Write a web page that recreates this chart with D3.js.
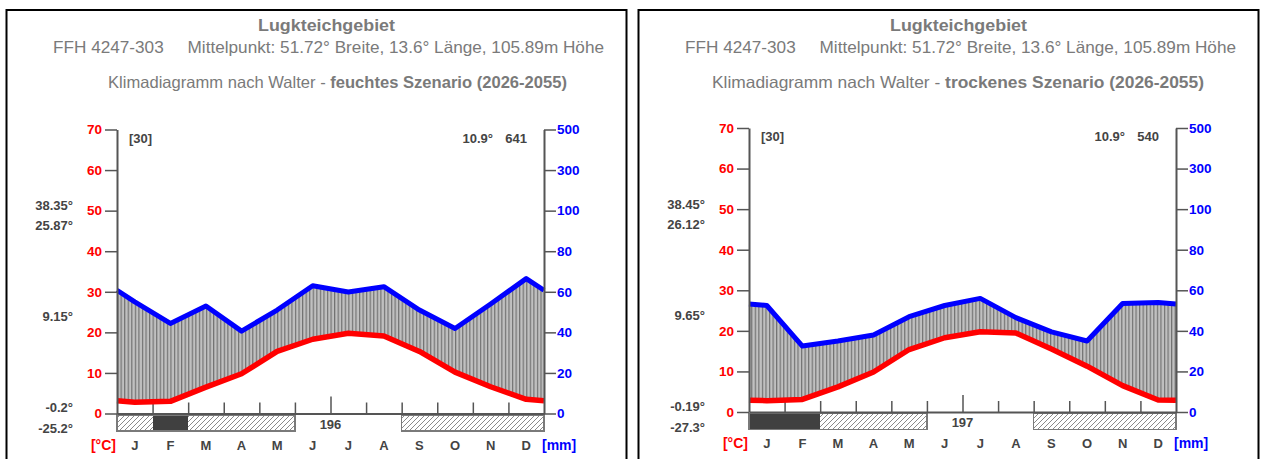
<!DOCTYPE html>
<html>
<head>
<meta charset="utf-8">
<script src="https://cdn.jsdelivr.net/npm/d3@7"></script>
<style>
  body { margin: 0; background: #fff; }
  svg { display: block; font-family: "Liberation Sans", Arial, sans-serif; }
</style>
</head>
<body>
<svg id="chart" width="1262" height="459"></svg>
<script>
// data
var months = ["J", "F", "M", "A", "M", "J", "J", "A", "S", "O", "N", "D"];
var tempTicks = [0, 10, 20, 30, 40, 50, 60, 70];
var precipTicks = [0, 20, 40, 60, 80, 100, 300, 500];

var tempWet = [2.8, 3.0, 6.5, 9.8, 15.3, 18.3, 19.8, 19.1, 15.3, 10.2, 6.6, 3.5];
var precipWet = [55, 44.4, 53, 40.6, 51, 63, 59.9, 62.5, 51, 41.9, 54, 66.5];
var tempDry = [2.8, 3.1, 6.2, 9.85, 15.4, 18.3, 19.8, 19.5, 15.5, 11.3, 6.5, 2.95];
var precipDry = [52.5, 32.5, 35, 38, 47, 52.5, 56, 46.5, 39.5, 35, 53.5, 54];

// frost bar: 0 = none, 1 = hatched (possible frost), 2 = dark (frost)
var frostWet = [1, 2, 1, 1, 1, 0, 0, 0, 1, 1, 1, 1];
var frostDry = [2, 2, 1, 1, 1, 0, 0, 0, 1, 1, 1, 1];

var statsWet = ["38.35°", "25.87°", "9.15°", "-0.2°", "-25.2°"];
var statsDry = ["38.45°", "26.12°", "9.65°", "-0.19°", "-27.3°"];

var panels = [
  {ox: 0, oy: 0, scenario: "feuchtes Szenario (2026-2055)", temp: tempWet, precip: precipWet,
   frost: frostWet, frostFree: 196, meanTemp: "10.9°", annual: 641, stats: statsWet,
   subX: 108, subW: 459},
  {ox: 632, oy: -1.5, scenario: "trockenes Szenario (2026-2055)", temp: tempDry, precip: precipDry,
   frost: frostDry, frostFree: 197, meanTemp: "10.9°", annual: 540, stats: statsDry,
   subX: 80, subW: 492}
];

var svg = d3.select("#chart");
var defs = svg.append("defs");

// diagonal hatching for the frost bar
var hatch = defs.append("pattern")
  .attr("id", "hatch")
  .attr("patternUnits", "userSpaceOnUse")
  .attr("width", 5).attr("height", 5);
hatch.append("rect").attr("width", 5).attr("height", 5).attr("fill", "#fff");
hatch.append("path")
  .attr("d", "M-1,1 l2,-2 M0,5 l5,-5 M4,6 l2,-2")
  .attr("stroke", "#8a8a8a").attr("stroke-width", 1);

function drawPanel(p, idx) {
  var g = svg.append("g").attr("transform", "translate(" + p.ox + ",0)");

  // frame
  g.append("rect")
    .attr("x", 6.5).attr("y", 10).attr("width", 620).attr("height", 470)
    .attr("fill", "none").attr("stroke", "#000").attr("stroke-width", 2);

  // titles
  var title = g.append("g").attr("fill", "#7a7a7a");
  title.append("text").attr("x", 258).attr("y", 31)
    .attr("font-size", 17).attr("font-weight", "bold")
    .attr("textLength", 137).attr("lengthAdjust", "spacingAndGlyphs")
    .text("Lugkteichgebiet");
  title.append("text").attr("x", 53).attr("y", 53).attr("font-size", 16.5)
    .attr("textLength", 551).attr("lengthAdjust", "spacingAndGlyphs")
    .style("white-space", "pre")
    .text("FFH 4247-303     Mittelpunkt: 51.72° Breite, 13.6° Länge, 105.89m Höhe");
  var l3 = title.append("text").attr("x", p.subX).attr("y", 88).attr("font-size", 16.5)
    .attr("textLength", p.subW).attr("lengthAdjust", "spacingAndGlyphs");
  l3.append("tspan").text("Klimadiagramm nach Walter - ");
  l3.append("tspan").attr("font-weight", "bold").text(p.scenario);

  // plot geometry
  var x0 = 117, x1 = 544, yTop = 129.5 + p.oy, y0 = 413.5 + p.oy;
  var xB = d3.scaleLinear().domain([0, 12]).range([x0, x1]);
  var yT = d3.scaleLinear().domain([0, 70]).range([y0, yTop]);
  var yP = d3.scaleLinear().domain([0, 100, 500]).range([yT(0), yT(50), yT(70)]);
  var mw = (x1 - x0) / 12;

  // vertical stripes for the humid period
  var pid = "humid" + idx;
  var pat = defs.append("pattern")
    .attr("id", pid)
    .attr("patternUnits", "userSpaceOnUse")
    .attr("x", p.ox + x0).attr("y", 0)
    .attr("width", mw / 10).attr("height", 10);
  pat.append("rect").attr("width", mw / 10).attr("height", 10).attr("fill", "#c0c0c0");
  pat.append("rect").attr("x", 0).attr("width", 1.2).attr("height", 10).attr("fill", "#727272");

  // points at month centres, closed at both edges with the Dec/Jan mean
  var n = months.length;
  var pts = [{x: x0, t: (p.temp[0] + p.temp[n - 1]) / 2, pr: (p.precip[0] + p.precip[n - 1]) / 2}];
  months.forEach(function(m, i) {
    pts.push({x: xB(i + 0.5), t: p.temp[i], pr: p.precip[i]});
  });
  pts.push({x: x1, t: pts[0].t, pr: pts[0].pr});

  var area = d3.area()
    .x(function(d) { return d.x; })
    .y0(function(d) { return yT(d.t); })
    .y1(function(d) { return yP(d.pr); });
  g.append("path").datum(pts).attr("d", area).attr("fill", "url(#" + pid + ")");

  // frost bar
  var bar = g.append("g").attr("shape-rendering", "crispEdges");
  bar.selectAll("rect.cell")
    .data(p.frost.map(function(f, i) { return {f: f, i: i}; }).filter(function(d) { return d.f > 0; }))
    .enter().append("rect")
    .attr("class", "cell")
    .attr("x", function(d) { return Math.round(xB(d.i)); })
    .attr("y", y0 + 1.5)
    .attr("width", function(d) { return Math.round(xB(d.i + 1)) - Math.round(xB(d.i)); })
    .attr("height", 16)
    .attr("fill", function(d) { return d.f === 2 ? "#404040" : "url(#hatch)"; });
  // outline each run of frost months
  var runs = [], start = -1;
  p.frost.forEach(function(f, i) {
    if (f > 0 && start < 0) start = i;
    if ((f === 0 || i === n - 1) && start >= 0) {
      runs.push([start, f === 0 ? i : i + 1]);
      start = -1;
    }
  });
  bar.selectAll("rect.run").data(runs).enter().append("rect")
    .attr("class", "run")
    .attr("x", function(d) { return xB(d[0]); })
    .attr("y", y0 + 1.5)
    .attr("width", function(d) { return xB(d[1]) - xB(d[0]); })
    .attr("height", 16)
    .attr("fill", "none").attr("stroke", "#7a7a7a").attr("stroke-width", 1.5);

  // bottom axis with month boundary ticks
  var bottom = g.append("g").attr("transform", "translate(0," + y0 + ")")
    .call(d3.axisBottom(xB).tickValues(d3.range(1, 12)).tickSize(-11).tickSizeOuter(0).tickFormat(""));
  bottom.select(".domain").attr("stroke", "#555").attr("stroke-width", 2);
  bottom.selectAll(".tick line").attr("stroke", "#555").attr("stroke-width", 1.5)
    .filter(function(d) { return d === 6; }).attr("y2", -17);

  // lines
  var tLine = d3.line().x(function(d) { return d.x; }).y(function(d) { return yT(d.t); });
  var pLine = d3.line().x(function(d) { return d.x; }).y(function(d) { return yP(d.pr); });
  g.append("path").datum(pts).attr("d", tLine)
    .attr("fill", "none").attr("stroke", "#ff0000").attr("stroke-width", 5.5).attr("stroke-linejoin", "round");
  g.append("path").datum(pts).attr("d", pLine)
    .attr("fill", "none").attr("stroke", "#0000ff").attr("stroke-width", 5).attr("stroke-linejoin", "round");

  // temperature axis
  var left = g.append("g").attr("transform", "translate(" + x0 + ",0)")
    .call(d3.axisLeft(yT).tickValues(tempTicks).tickSize(12).tickPadding(3).tickSizeOuter(0));
  left.select(".domain").attr("stroke", "#555").attr("stroke-width", 2);
  left.selectAll(".tick line").attr("stroke", "#555").attr("stroke-width", 1.5);
  left.selectAll(".tick text").attr("fill", "#ff0000").attr("font-size", 13.5)
    .attr("font-weight", "bold").attr("font-family", "Liberation Sans, Arial, sans-serif");

  // precipitation axis
  var right = g.append("g").attr("transform", "translate(" + x1 + ",0)")
    .call(d3.axisRight(yP).tickValues(precipTicks).tickSize(12).tickPadding(1).tickSizeOuter(0));
  right.select(".domain").attr("stroke", "#555").attr("stroke-width", 2);
  right.selectAll(".tick line").attr("stroke", "#555").attr("stroke-width", 1.5);
  right.selectAll(".tick text").attr("fill", "#0000ff").attr("font-size", 13.5)
    .attr("font-weight", "bold").attr("font-family", "Liberation Sans, Arial, sans-serif");

  // month labels and units
  var lab = g.append("g").attr("font-weight", "bold").attr("font-size", 13);
  lab.selectAll("text.month").data(months).enter().append("text")
    .attr("class", "month")
    .attr("x", function(d, i) { return xB(i + 0.5); })
    .attr("y", y0 + 36)
    .attr("text-anchor", "middle").attr("fill", "#444")
    .text(function(d) { return d; });
  lab.append("text").attr("x", x0 - 1).attr("y", y0 + 36).attr("text-anchor", "end")
    .attr("fill", "#ff0000").attr("font-size", 14).text("[°C]");
  lab.append("text").attr("x", x1 - 2).attr("y", y0 + 36)
    .attr("fill", "#0000ff").attr("font-size", 14).text("[mm]");
  lab.append("text").attr("x", xB(6)).attr("y", y0 + 15).attr("text-anchor", "middle")
    .attr("fill", "#444").text(p.frostFree);

  // header numbers
  lab.append("text").attr("x", x0 + 12).attr("y", yTop + 13).attr("fill", "#444").text("[30]");
  lab.append("text").attr("x", x1 - 51).attr("y", yTop + 13).attr("text-anchor", "end")
    .attr("fill", "#444").text(p.meanTemp);
  lab.append("text").attr("x", x1 - 17).attr("y", yTop + 13).attr("text-anchor", "end")
    .attr("fill", "#444").text(p.annual);

  // extreme values on the left
  var statY = [210, 230, 321, 412, 433];
  lab.selectAll("text.stat").data(p.stats).enter().append("text")
    .attr("class", "stat")
    .attr("x", 73)
    .attr("y", function(d, i) { return statY[i] + p.oy; })
    .attr("text-anchor", "end").attr("fill", "#444")
    .text(function(d) { return d; });
}

panels.forEach(drawPanel);
</script>
</body>
</html>
